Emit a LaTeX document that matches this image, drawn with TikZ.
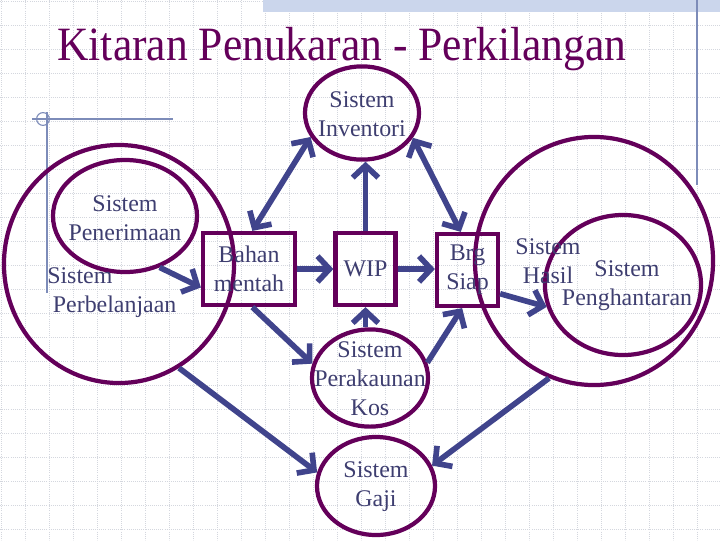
\documentclass[tikz,border=0pt]{standalone}
\usepackage{fontspec}
\setmainfont{Liberation Serif}
\usetikzlibrary{arrows.meta, shapes.geometric, calc}
\definecolor{LinePurple}{RGB}{100,0,90}
\definecolor{ArrowBlue}{RGB}{64,68,140}
\definecolor{TextSlate}{RGB}{62,62,112}
\definecolor{GridGrey}{RGB}{212,215,222}
\definecolor{BannerBlue}{RGB}{203,214,236}
\definecolor{RuleBlue}{RGB}{125,140,185}
\begin{document}
\begin{tikzpicture}[x=0.025cm, y=-0.025cm, font=\fontsize{17}{20.5}\selectfont,
  ring/.style={draw=LinePurple, line width=3pt, ellipse, inner sep=0pt},
  box/.style={draw=LinePurple, line width=3pt, rectangle, inner sep=0pt, align=center, text=TextSlate, minimum height=1.8cm},
  txt/.style={text=TextSlate, align=center, inner sep=0pt},
  ar/.style={-{Straight Barb[length=3mm, width=6.4mm]}, ArrowBlue, line width=4pt},
  dar/.style={ar, {Straight Barb[length=3mm, width=6.4mm]}-{Straight Barb[length=3mm, width=6.4mm]}},
  gridline/.style={GridGrey, densely dotted, line width=0.5pt}, rule/.style={RuleBlue, line width=0.8pt}]
\useasboundingbox (0,0) rectangle (720,540);
\foreach \gx in {1,25,...,721} \draw[gridline] (\gx,0) -- (\gx,540);
\foreach \gy in {1,25,...,529} \draw[gridline] (0,\gy) -- (720,\gy);
\fill[BannerBlue] (263,0) rectangle (720,12);
\draw[rule] (697,0) -- (697,185);
\draw[rule] (32,119) -- (173,119); \draw[rule] (47,112) -- (47,293);
\draw[rule] (43,119) circle[radius=1.6mm];
\node[text=LinePurple, font=\fontsize{34}{40}\selectfont, xscale=0.91, anchor=base, inner sep=0pt] (title) at (342,60) {Kitaran Penukaran - Perkilangan};
\node[ring, minimum width=2.85cm, minimum height=2.33cm] (inv) at (362,113) {};
\node[ring, minimum width=5.75cm, minimum height=5.95cm] (bel) at (119,264) {};
\node[ring, minimum width=3.6cm, minimum height=2.8cm] (pen) at (125,216) {};
\node[ring, minimum width=5.95cm, minimum height=6.2cm] (has) at (594,261) {};
\node[ring, minimum width=3.9cm, minimum height=3.5cm] (pgh) at (623,285) {};
\node[ring, minimum width=2.9cm, minimum height=2.43cm] (kos) at (370,378) {};
\node[ring, minimum width=2.95cm, minimum height=2.45cm] (gaji) at (376,486) {};
\node[box, minimum width=2.3cm] (bahan) at (249,269) {Bahan\\mentah};
\node[box, minimum width=1.5cm] (wip) at (365.5,269) {WIP};
\node[box, minimum width=1.525cm] (brg) at (467.5,270) {Brg\\Siap};
\node[txt] (invT) at (362,114) {Sistem\\Inventori};
\node[txt] (penT) at (125,218) {Sistem\\Penerimaan};
\node[txt, anchor=west, align=left] (belT) at (47,293) {Sistem\\\hspace{4pt}Perbelanjaan};
\node[txt] (hasT) at (548,261) {Sistem\\Hasil};
\node[txt] (pghT) at (627,286) {Sistem\\Penghantaran};
\node[txt] (kosT) at (370,379) {Sistem\\Perakaunan\\Kos};
\node[txt] (gajiT) at (376,487) {Sistem\\Gaji};
\draw[dar] (bahan.85) -- (inv.-155); \draw[ar] (wip.north) -- (wip.north |- inv.south); \draw[dar] (inv.-26) -- (brg.100);
\draw[ar] (bahan.east) -- (wip.west); \draw[ar] (wip.east) -- (wip.east -| brg.west);
\draw[ar] (pen.-56) -- (bahan.201); \draw[ar] (brg.-36) -- (pgh.196);
\draw[ar] (bahan.-85) -- (kos.166); \draw[ar] (wip.south |- kos.north) -- (wip.south); \draw[ar] (kos.15) -- (brg.-98);
\draw[ar] (bel.-60) -- (gaji.167); \draw[ar] (has.-111) -- (gaji.20);
\end{tikzpicture}
\end{document}
